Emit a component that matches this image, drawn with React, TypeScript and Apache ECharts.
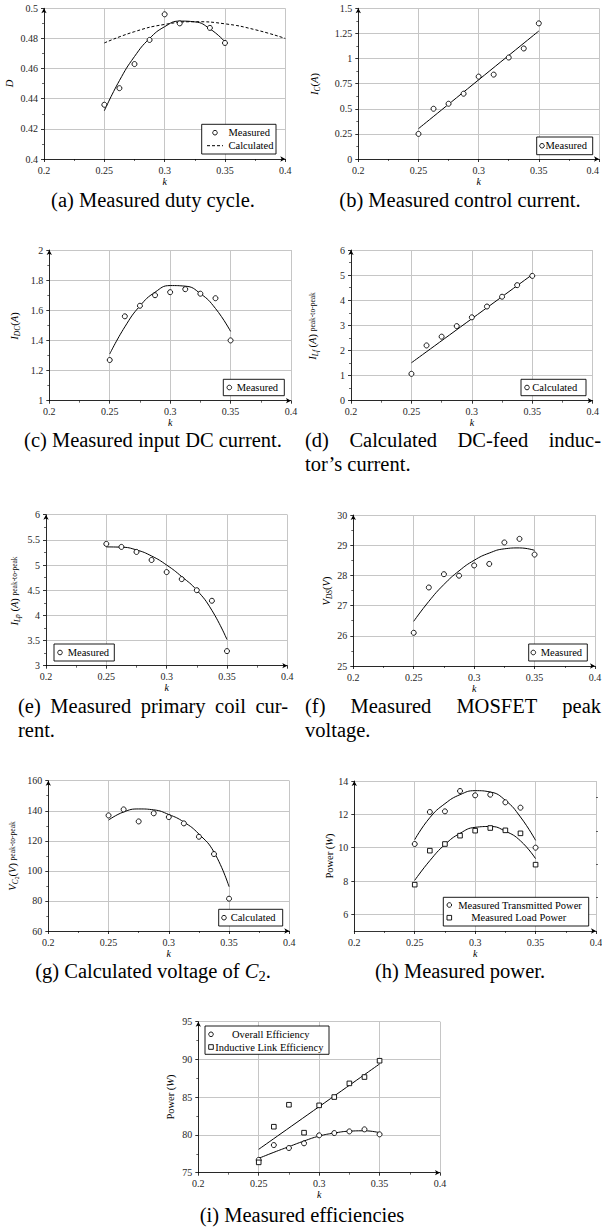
import React, { useEffect, useRef } from 'react';
import * as echarts from 'echarts';

const FONT = '"Liberation Serif", "Times New Roman", Times, serif';

// ---- x values (coupling coefficient k) ----
const K = [0.25, 0.2625, 0.275, 0.2875, 0.3, 0.3125, 0.325, 0.3375, 0.35];
const K_A = [0.25, 0.2625, 0.275, 0.2875, 0.3, 0.3125, 0.3375, 0.35];
const K_LINE = [0.25, 0.35];
const K_CALC = [0.25, 0.275, 0.3, 0.325, 0.35, 0.375, 0.4];
const X_TICKS = [0.2, 0.25, 0.3, 0.35, 0.4];

// ---- tick labels ----
const Y_TICKS_A = [0.4, 0.42, 0.44, 0.46, 0.48, 0.5];
const Y_TICKS_B = [0, 0.25, 0.5, 0.75, 1, 1.25, 1.5];
const Y_TICKS_C = [1, 1.2, 1.4, 1.6, 1.8, 2];
const Y_TICKS_D = [0, 1, 2, 3, 4, 5, 6];
const Y_TICKS_E = [3, 3.5, 4, 4.5, 5, 5.5, 6];
const Y_TICKS_F = [25, 26, 27, 28, 29, 30];
const Y_TICKS_G = [60, 80, 100, 120, 140, 160];
const Y_TICKS_H = [6, 8, 10, 12, 14];
const Y_MINOR_H = [7, 9, 11, 13];
const Y_RANGE_H = [5, 14];
const Y_TICKS_I = [75, 80, 85, 90, 95];

// ---- (a) duty cycle ----
const dutyMeasured = [0.436, 0.447, 0.463, 0.479, 0.496, 0.49, 0.487, 0.477];
const dutyFit = [0.432, 0.452, 0.468, 0.48, 0.4878, 0.4915, 0.491, 0.4864, 0.4778];
const dutyCalculated = [0.477, 0.4845, 0.4893, 0.4911, 0.4897, 0.4858, 0.48];
// ---- (b) control current ----
const controlMeasured = [0.25, 0.5, 0.55, 0.65, 0.82, 0.84, 1.01, 1.1, 1.35];
const controlFit = [0.302, 1.274];
// ---- (c) input DC current ----
const dcMeasured = [1.27, 1.56, 1.63, 1.7, 1.72, 1.74, 1.71, 1.68, 1.4];
const dcFit = [1.31, 1.49, 1.629, 1.72, 1.764, 1.76, 1.711, 1.612, 1.46];
// ---- (d) DC-feed inductor current ----
const inductorCalculated = [1.07, 2.2, 2.55, 2.97, 3.32, 3.75, 4.14, 4.6, 4.97];
const inductorFit = [1.51, 5.02];
// ---- (e) primary coil current ----
const primaryMeasured = [5.42, 5.36, 5.26, 5.1, 4.86, 4.72, 4.5, 4.29, 3.29];
const primaryFit = [5.36, 5.355, 5.3, 5.18, 5.0, 4.77, 4.5, 4.1, 3.52];
// ---- (f) MOSFET peak voltage ----
const mosfetMeasured = [26.1, 27.6, 28.04, 27.99, 28.33, 28.38, 29.09, 29.21, 28.69];
const mosfetFit = [26.48, 27.14, 27.7, 28.15, 28.5, 28.74, 28.88, 28.91, 28.83];
// ---- (g) voltage of C2 ----
const c2Calculated = [136.9, 140.9, 132.9, 138.3, 135.8, 131.6, 122.7, 111.2, 81.5];
const c2Fit = [133.8, 139.2, 141.2, 140.6, 137.5, 132.5, 124.5, 112.5, 89.5];
// ---- (h) power ----
const powerTransmitted = [10.22, 12.14, 12.18, 13.4, 13.14, 13.18, 12.72, 12.4, 10.0];
const powerTransmittedFit = [10.48, 11.8, 12.64, 13.18, 13.42, 13.34, 12.84, 11.84, 10.44];
const powerLoad = [7.78, 9.82, 10.22, 10.72, 11.02, 11.18, 11.04, 10.86, 8.98];
const powerLoadFit = [8.04, 9.22, 10.19, 10.86, 11.22, 11.27, 10.99, 10.41, 9.34];
// ---- (i) efficiencies ----
const effOverall = [76.7, 78.66, 78.27, 78.89, 79.95, 80.25, 80.47, 80.74, 80.08];
const effOverallFit = [76.9, 77.7, 78.45, 79.2, 79.85, 80.25, 80.5, 80.55, 80.3];
const effLink = [76.37, 81.09, 84.0, 80.3, 83.92, 85.02, 86.83, 87.67, 89.83];
const effLinkFit = [78.1, 89.4];

// ---- layout (plot rectangles: left, top, right, bottom) ----
const PANELS = [
  { rect: [44, 8.3, 285.3, 159], ticks: Y_TICKS_A },
  { rect: [358.3, 8.3, 599, 159], ticks: Y_TICKS_B },
  { rect: [49.3, 250, 291, 400.7], ticks: Y_TICKS_C },
  { rect: [351, 250, 592.7, 400.7], ticks: Y_TICKS_D },
  { rect: [46, 514.7, 287.3, 665.7], ticks: Y_TICKS_E },
  { rect: [353.3, 515, 595, 666], ticks: Y_TICKS_F },
  { rect: [48.3, 780.7, 289.3, 931], ticks: Y_TICKS_G },
  { rect: [354.3, 781, 596, 931], ticks: Y_TICKS_H },
  { rect: [198.3, 1021.7, 440, 1172.7], ticks: Y_TICKS_I },
];

const step = (t: number[]) => +(t[1] - t[0]).toFixed(6);
const pts = (xs: number[], ys: number[]) => xs.map((x, i) => [x, ys[i]]);

const AXIS_LINE = { color: '#000', width: 0.8 };
const LABEL = { fontFamily: FONT, fontSize: 10, color: '#262626', margin: 6 };
const SPLIT = { show: true, lineStyle: { color: '#c6c6c6', width: 1 } };

function xAxisOf(i: number) {
  return {
    type: 'value', gridIndex: i,
    min: X_TICKS[0], max: X_TICKS[X_TICKS.length - 1], interval: step(X_TICKS),
    axisLine: { show: true, onZero: false, lineStyle: AXIS_LINE, symbol: ['none', 'arrow'], symbolSize: [4, 5] },
    axisTick: { show: true, length: 3, lineStyle: AXIS_LINE },
    minorTick: { show: true, splitNumber: 2, length: 2, lineStyle: { color: '#000', width: 0.6 } },
    splitLine: SPLIT,
    axisLabel: LABEL,
  };
}

function yAxisOf(i: number, ticks: number[]) {
  return {
    type: 'value', gridIndex: i,
    min: ticks[0], max: ticks[ticks.length - 1], interval: step(ticks),
    axisLine: { show: true, onZero: false, lineStyle: AXIS_LINE, symbol: ['none', 'arrow'], symbolSize: [4, 5] },
    axisTick: { show: true, length: 3, lineStyle: AXIS_LINE },
    minorTick: { show: true, splitNumber: 2, length: 2, lineStyle: { color: '#000', width: 0.6 } },
    splitLine: SPLIT,
    axisLabel: LABEL,
  };
}

function fit(i: number, xs: number[], ys: number[], dashed = false) {
  return {
    type: 'line', xAxisIndex: i, yAxisIndex: i, data: pts(xs, ys), smooth: true,
    symbol: 'none', showSymbol: false, silent: true, z: 2,
    lineStyle: { color: '#000', width: 1, type: dashed ? [3, 2] : 'solid' },
  };
}

function marks(i: number, xs: number[], ys: number[], symbol = 'circle') {
  return {
    type: 'scatter', xAxisIndex: i, yAxisIndex: i, data: pts(xs, ys), silent: true, z: 3,
    symbol, symbolSize: symbol === 'circle' ? 5 : 4.6,
    itemStyle: { color: '#fff', borderColor: '#000', borderWidth: 0.9, opacity: 1 },
  };
}

// ---- graphic helpers ----
const Z = 20;
function txt(x: number, y: number, text: string, extra: any = {}) {
  return {
    type: 'text', x, y, z: Z, silent: true,
    style: { text, fontFamily: FONT, fontSize: 10.5, fill: '#000', align: 'left', verticalAlign: 'middle', ...extra },
  };
}
function box(x0: number, y0: number, x1: number, y1: number) {
  return { type: 'rect', z: Z, silent: true, shape: { x: x0, y: y0, width: x1 - x0, height: y1 - y0 }, style: { fill: '#fff', stroke: '#000', lineWidth: 0.9 } };
}
function circ(cx: number, cy: number) {
  return { type: 'circle', z: Z + 1, silent: true, shape: { cx, cy, r: 2.3 }, style: { fill: '#fff', stroke: '#000', lineWidth: 0.9 } };
}
function sq(cx: number, cy: number) {
  return { type: 'rect', z: Z + 1, silent: true, shape: { x: cx - 2.3, y: cy - 2.3, width: 4.6, height: 4.6 }, style: { fill: '#fff', stroke: '#000', lineWidth: 0.9 } };
}

const RICH_Y: any = {
  i: { fontFamily: FONT, fontStyle: 'italic', fontSize: 10.5, lineHeight: 14 },
  n: { fontFamily: FONT, fontSize: 10.5, lineHeight: 14 },
  sub: { fontFamily: FONT, fontStyle: 'italic', fontSize: 7.5, lineHeight: 7.5, verticalAlign: 'bottom' },
  subn: { fontFamily: FONT, fontSize: 5.8, lineHeight: 5.8, verticalAlign: 'bottom' },
  s: { fontFamily: FONT, fontSize: 7.5, lineHeight: 14 },
};
function yTitle(x: number, y: number, text: string) {
  return {
    type: 'text', x, y, z: Z, silent: true, rotation: Math.PI / 2,
    style: { text, rich: RICH_Y, fontFamily: FONT, fontSize: 10.5, fill: '#000', align: 'center', verticalAlign: 'middle' },
  };
}

const CAP_SIZE = 20.5;
const RICH_CAP: any = {
  n: { fontFamily: FONT, fontSize: CAP_SIZE, lineHeight: 24 },
  i: { fontFamily: FONT, fontSize: CAP_SIZE, fontStyle: 'italic', lineHeight: 24 },
  sub: { fontFamily: FONT, fontSize: 14.5, lineHeight: 14.5, verticalAlign: 'bottom' },
};
function caption(cx: number, y: number, text: string, align = 'center') {
  return {
    type: 'text', x: cx, y, z: Z, silent: true,
    style: { text, rich: RICH_CAP, fontFamily: FONT, fontSize: CAP_SIZE, fill: '#000', align, verticalAlign: 'middle' },
  };
}

let measureCtx: CanvasRenderingContext2D | null = null;
function measure(s: string) {
  if (!measureCtx) measureCtx = document.createElement('canvas').getContext('2d');
  measureCtx!.font = `${CAP_SIZE}px ${FONT}`;
  return measureCtx!.measureText(s).width;
}
function justified(words: string[], left: number, right: number, y: number) {
  const w = words.map(measure);
  const total = w.reduce((a, b) => a + b, 0);
  const gap = (right - left - total) / (words.length - 1);
  let x = left;
  return words.map((word, i) => {
    const el = txt(x, y, word, { fontSize: CAP_SIZE });
    x += w[i] + gap;
    return el;
  });
}

function buildOption() {
  const grid = PANELS.map((p) => ({
    left: p.rect[0], top: p.rect[1], width: p.rect[2] - p.rect[0], height: p.rect[3] - p.rect[1],
    containLabel: false, outerBoundsMode: 'none',
  }));
  const xAxis: any[] = PANELS.map((_, i) => xAxisOf(i));
  // (b): last x label sits at the page edge; keep it inside
  xAxis[1] = { ...xAxis[1], axisLabel: { ...LABEL, alignMaxLabel: 'right' } };
  const yAxis: any[] = PANELS.map((p, i) => yAxisOf(i, p.ticks));
  // (h): axis starts at 5, labelled ticks only at even values
  yAxis[7] = {
    ...yAxis[7], min: Y_RANGE_H[0], max: Y_RANGE_H[1], interval: 1,
    axisTick: { show: true, length: 3, lineStyle: AXIS_LINE, customValues: Y_TICKS_H },
    axisLabel: { ...LABEL, customValues: Y_TICKS_H },
    minorTick: { show: false },
  };
  yAxis.push({
    type: 'value', gridIndex: 7, min: Y_RANGE_H[0], max: Y_RANGE_H[1], interval: 1,
    axisLine: { show: false }, axisLabel: { show: false }, splitLine: { show: false },
    axisTick: { show: true, length: 2, lineStyle: { color: '#000', width: 0.6 }, customValues: Y_MINOR_H },
  });

  const series = [
    fit(0, K, dutyFit), fit(0, K_CALC, dutyCalculated, true), marks(0, K_A, dutyMeasured),
    fit(1, K_LINE, controlFit), marks(1, K, controlMeasured),
    fit(2, K, dcFit), marks(2, K, dcMeasured),
    fit(3, K_LINE, inductorFit), marks(3, K, inductorCalculated),
    fit(4, K, primaryFit), marks(4, K, primaryMeasured),
    fit(5, K, mosfetFit), marks(5, K, mosfetMeasured),
    fit(6, K, c2Fit), marks(6, K, c2Calculated),
    fit(7, K, powerTransmittedFit), fit(7, K, powerLoadFit),
    marks(7, K, powerTransmitted), marks(7, K, powerLoad, 'rect'),
    fit(8, K, effOverallFit), fit(8, K_LINE, effLinkFit),
    marks(8, K, effOverall), marks(8, K, effLink, 'rect'),
  ];

  const g: any[] = [];
  // x axis names
  PANELS.forEach((p) => {
    g.push(txt((p.rect[0] + p.rect[2]) / 2, p.rect[3] + 22, 'k', { fontStyle: 'italic', fontSize: 10, align: 'center' }));
  });
  // y axis titles
  g.push(yTitle(9.5, 83.5, '{i|D}'));
  g.push(yTitle(314, 84, '{i|I}{sub|C}{n|(}{i|A}{n|)}'));
  g.push(yTitle(14, 326, '{i|I}{sub|DC}{n|(}{i|A}{n|)}'));
  g.push(yTitle(312.7, 326, '{i|I}{sub|Lf}{n| (}{i|A}{n|) }{s|peak-to-peak}'));
  g.push(yTitle(14, 591, '{i|I}{sub|Lp}{n| (}{i|A}{n|) }{s|peak-to-peak}'));
  g.push(yTitle(326, 591, '{i|V}{sub|DS}{n|(}{i|V}{n|)}'));
  g.push(yTitle(12.7, 856, '{i|V}{sub|C}{subn|2}{n|(}{i|V}{n|) }{s|peak-to-peak}'));
  g.push(yTitle(329, 856, '{n|Power (}{i|W}{n|)}'));
  g.push(yTitle(170, 1097, '{n|Power (}{i|W}{n|)}'));

  // legends
  // (a)
  g.push(box(201.7, 124.3, 276, 154));
  g.push(circ(215, 132.7));
  g.push({ type: 'line', z: Z + 1, silent: true, shape: { x1: 207, y1: 145.7, x2: 223, y2: 145.7 }, style: { stroke: '#000', lineWidth: 1, lineDash: [3, 2] } });
  g.push(txt(228.5, 132.7, 'Measured'));
  g.push(txt(228.5, 145.7, 'Calculated'));
  // (b)
  g.push(box(536.7, 137, 592.7, 154.7)); g.push(circ(542, 145.8)); g.push(txt(545.5, 145.8, 'Measured'));
  // (c)
  g.push(box(223.3, 379.3, 284.3, 395.7)); g.push(circ(229.3, 387.5)); g.push(txt(236.7, 387.5, 'Measured'));
  // (d)
  g.push(box(521, 379.3, 586, 395.7)); g.push(circ(527, 387.5)); g.push(txt(532.3, 387.5, 'Calculated'));
  // (e)
  g.push(box(54, 644, 114.3, 661)); g.push(circ(60, 652.5)); g.push(txt(67.7, 652.5, 'Measured'));
  // (f)
  g.push(box(528.7, 644, 587.3, 661)); g.push(circ(533.3, 652.5)); g.push(txt(540.7, 652.5, 'Measured'));
  // (g)
  g.push(box(218.7, 909.3, 282.7, 926)); g.push(circ(224, 917.7)); g.push(txt(230.7, 917.7, 'Calculated'));
  // (h)
  g.push(box(443.3, 897.3, 588.7, 926));
  g.push(circ(449.3, 905)); g.push(sq(449.3, 917.7));
  g.push(txt(520, 905, 'Measured Transmitted Power', { align: 'center' }));
  g.push(txt(518.7, 917.7, 'Measured Load Power', { align: 'center' }));
  // (i)
  g.push(box(205, 1026, 329, 1054.3));
  g.push(circ(211, 1034.3)); g.push(sq(211, 1047));
  g.push(txt(270.8, 1034.3, 'Overall Efficiency', { align: 'center' }));
  g.push(txt(269.3, 1047, 'Inductive Link Efficiency', { align: 'center' }));

  // captions
  const LC = 153, RC = 460;
  g.push(caption(LC, 200, '{n|(a) Measured duty cycle.}'));
  g.push(caption(RC, 200, '{n|(b) Measured control current.}'));
  g.push(caption(LC, 440, '{n|(c) Measured input DC current.}'));
  g.push(...justified(['(d)', 'Calculated', 'DC-feed', 'induc-'], 305, 601, 440));
  g.push(txt(305, 464, 'tor\u2019s current.', { fontSize: CAP_SIZE }));
  g.push(...justified(['(e)', 'Measured', 'primary', 'coil', 'cur-'], 18, 288, 706));
  g.push(txt(18, 730, 'rent.', { fontSize: CAP_SIZE }));
  g.push(...justified(['(f)', 'Measured', 'MOSFET', 'peak'], 305, 601, 706));
  g.push(txt(305, 730, 'voltage.', { fontSize: CAP_SIZE }));
  g.push(caption(LC, 971, '{n|(g) Calculated voltage of }{i|C}{sub|2}{n|.}'));
  g.push(caption(RC, 971, '{n|(h) Measured power.}'));
  g.push(caption(302, 1215, '{n|(i) Measured efficiencies}'));

  return {
    animation: false,
    backgroundColor: '#fff',
    grid, xAxis, yAxis, series,
    graphic: { elements: g },
  };
}

export default function App() {
  const ref = useRef<HTMLDivElement>(null);
  useEffect(() => {
    if (!ref.current) return;
    const chart = echarts.init(ref.current, undefined, { renderer: 'svg' });
    chart.setOption(buildOption() as any);
    return () => chart.dispose();
  }, []);
  return <div ref={ref} style={{ position: 'absolute', left: 0, top: 0, width: 602, height: 1229, background: '#fff' }} />;
}
